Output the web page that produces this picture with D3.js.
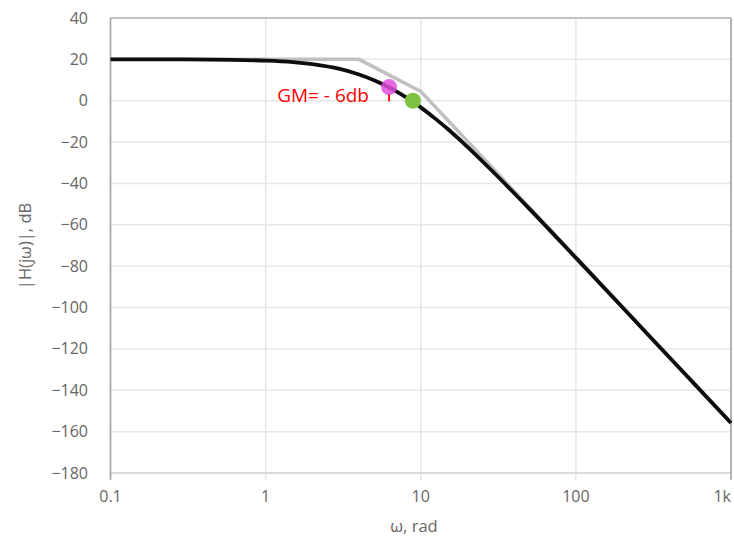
<!DOCTYPE html>
<html>
<head>
<meta charset="utf-8">
<script src="https://cdn.jsdelivr.net/npm/d3@7"></script>
<style>
  body { margin: 0; background: #fff; }
  text { font-family: "Open Sans", sans-serif; }
</style>
</head>
<body>
<div id="chart"></div>
<script>
// magnitude curve
const omega = [0.1, 0.3, 0.6, 1, 1.5, 2, 3, 4, 5, 6, 7, 8, 10, 12, 15, 20, 30, 50, 100, 200, 500, 1000];
const magDb = [20, 19.95, 19.8, 19.4, 18.7, 17.7, 15.4, 12.7, 9.9, 7.1, 4.4, 1.7, -3.2, -7.8, -13.8, -22.3, -35.2, -52.2, -76, -100, -131.8, -155.8];

// straight-line asymptote
const asymOmega = [0.1, 4, 10, 1000];
const asymDb = [20, 20, 4.5, -155.5];

// marked points
const gmPoint = [6.25, 6.6];
const crossPoint = [8.9, 0];
const gmLabel = 'GM= - 6db';

const xTicks = [0.1, 1, 10, 100, 1000];
const xTickLabels = ['0.1', '1', '10', '100', '1k'];
const yTicks = d3.range(-180, 41, 20);

const width = 734, height = 541;
const margin = {top: 18, right: 3, bottom: 68, left: 110.5};

const svg = d3.select('#chart')
  .append('svg')
  .attr('width', width)
  .attr('height', height);

const x = d3.scaleLog().domain([0.1, 1000]).range([margin.left, width - margin.right]);
const y = d3.scaleLinear().domain([-180, 40]).range([height - margin.bottom, margin.top]);

// 1. grid
svg.append('g')
  .selectAll('line')
  .data(yTicks)
  .join('line')
  .attr('x1', x(0.1)).attr('x2', x(1000))
  .attr('y1', d => y(d)).attr('y2', d => y(d))
  .attr('stroke', '#e6e6e6')
  .attr('stroke-width', 1.5);

svg.append('g')
  .selectAll('line')
  .data(xTicks)
  .join('line')
  .attr('x1', d => x(d)).attr('x2', d => x(d))
  .attr('y1', y(40)).attr('y2', y(-180) + 7)
  .attr('stroke', '#e6e6e6')
  .attr('stroke-width', 1.5);

// 2. frame
svg.append('line')
  .attr('x1', x(0.1)).attr('x2', x(1000))
  .attr('y1', y(40)).attr('y2', y(40))
  .attr('stroke', '#b4b4b4').attr('stroke-width', 1.5);
svg.append('line')
  .attr('x1', x(0.1)).attr('x2', x(1000))
  .attr('y1', y(-180)).attr('y2', y(-180))
  .attr('stroke', '#d4d4d4').attr('stroke-width', 1.5);
svg.append('line')
  .attr('x1', x(0.1)).attr('x2', x(0.1))
  .attr('y1', y(40)).attr('y2', y(-180) + 7)
  .attr('stroke', '#a0a0a0').attr('stroke-width', 1.5);
svg.append('line')
  .attr('x1', x(1000)).attr('x2', x(1000))
  .attr('y1', y(40)).attr('y2', y(-180) + 7)
  .attr('stroke', '#a0a0a0').attr('stroke-width', 1.5);

// 3. tick labels
svg.append('g')
  .selectAll('text')
  .data(yTicks)
  .join('text')
  .attr('x', 88)
  .attr('y', d => y(d) + 5.5)
  .attr('text-anchor', 'end')
  .attr('font-size', 16)
  .attr('fill', '#666')
  .text(d => d < 0 ? '\u2212' + Math.abs(d) : d);

svg.append('g')
  .selectAll('text')
  .data(xTicks)
  .join('text')
  .attr('x', d => x(d))
  .attr('y', 502)
  .attr('text-anchor', (d, i) => i === xTicks.length - 1 ? 'end' : 'middle')
  .attr('font-size', 16)
  .attr('fill', '#666')
  .text((d, i) => xTickLabels[i]);

// 4. axis titles
svg.append('text')
  .attr('x', 414)
  .attr('y', 532)
  .attr('text-anchor', 'middle')
  .attr('font-size', 16.5)
  .attr('fill', '#666')
  .text('\u03c9, rad');

svg.append('text')
  .attr('transform', 'translate(31,246) rotate(-90)')
  .attr('text-anchor', 'middle')
  .attr('font-size', 16.5)
  .attr('fill', '#666')
  .text('|H(j\u03c9)|, dB');

// 5. lines
const line = d3.line()
  .x(d => x(d[0]))
  .y(d => y(d[1]));

svg.append('path')
  .datum(asymOmega.map((w, i) => [w, asymDb[i]]))
  .attr('d', line)
  .attr('fill', 'none')
  .attr('stroke', '#c0c0c0')
  .attr('stroke-width', 3.5);

svg.append('path')
  .datum(omega.map((w, i) => [w, magDb[i]]))
  .attr('d', line.curve(d3.curveCatmullRom.alpha(0.5)))
  .attr('fill', 'none')
  .attr('stroke', '#0d0d0d')
  .attr('stroke-width', 3.8);

// 6. markers + annotation
svg.append('circle')
  .attr('cx', x(gmPoint[0]))
  .attr('cy', y(gmPoint[1]))
  .attr('r', 8)
  .attr('fill', '#e04ee0')
  .attr('opacity', 0.85);

svg.append('line')
  .attr('x1', x(gmPoint[0])).attr('x2', x(gmPoint[0]))
  .attr('y1', y(3.1)).attr('y2', y(-0.3))
  .attr('stroke', '#ff1010')
  .attr('stroke-width', 2);

svg.append('circle')
  .attr('cx', x(crossPoint[0]))
  .attr('cy', y(crossPoint[1]))
  .attr('r', 8)
  .attr('fill', '#7dc243');

svg.append('text')
  .attr('x', 369)
  .attr('y', 102)
  .attr('text-anchor', 'end')
  .attr('font-size', 19)
  .attr('fill', '#ff0000')
  .text(gmLabel);
</script>
</body>
</html>
